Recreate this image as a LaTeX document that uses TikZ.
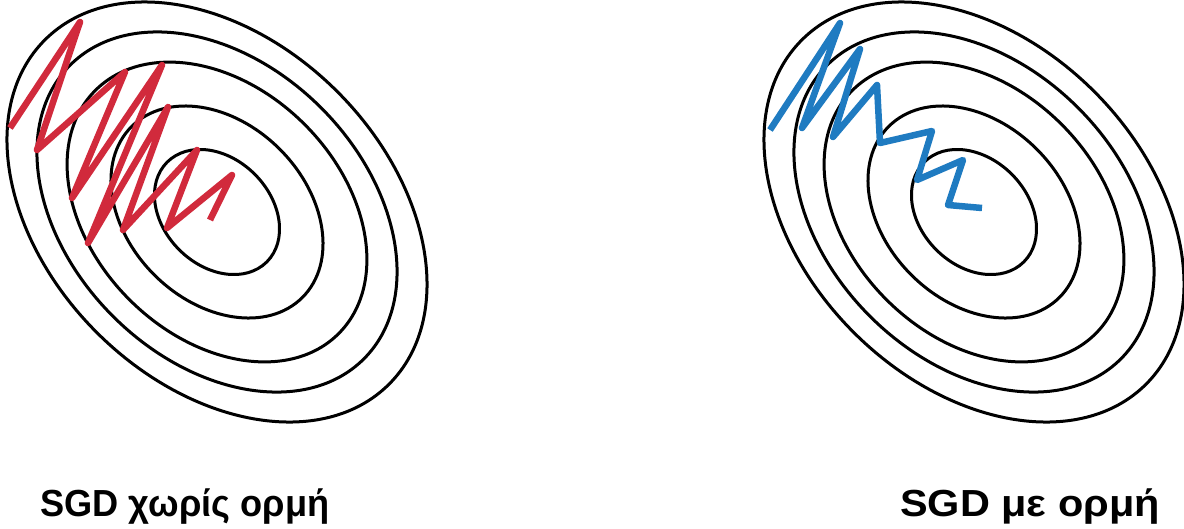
\documentclass[tikz,border=0pt]{standalone}
\usepackage{fontspec}
\setmainfont{Liberation Sans}
\definecolor{sgdred}{RGB}{209,42,60}
\definecolor{sgdblue}{RGB}{31,123,193}
\begin{document}
\begin{tikzpicture}[x=1pt,y=-1pt,
        contour/.style={line width=3pt,black},
        nomom/.style={line width=6.5pt,sgdred,line join=round,line cap=butt},
        withmom/.style={line width=6.5pt,sgdblue,line join=round,line cap=butt},
        caption/.style={anchor=base west,inner sep=0pt,font=\fontsize{37.7}{40}\selectfont\bfseries}]
                \useasboundingbox[fill=white] (0,0) rectangle (1184,528);
                \coordinate (cl) at (217,212);
                \coordinate (cr) at (974,212);
                % contour lines of the loss
                \foreach \a/\b in {70.5/53.4,120.8/88.8,172/123.9,207.7/147.3,243.4/170.2}{
                    \draw[contour,shift={(cl)},rotate=-45] (0,0) ellipse [x radius=\a,y radius=\b];
                    \draw[contour,shift={(cr)},rotate=-45] (0,0) ellipse [x radius=\a,y radius=\b];
                }
                % path without momentum
                \draw[nomom] (10,128)--(80,22)--(37,150)--(125,72)--(72,198)--(162,65)--(88,243)
                    --(168,107)--(123,230)--(197,150)--(167,228)--(232,175)--(210,220);
                % path with momentum
                \draw[withmom] (770,130)--(840,23)--(802,128)--(860,49)--(833,137)--(877,85)
                    --(880,143)--(932,131)--(917,180)--(963,160)--(948,205)--(982,208);
                \node[caption] (capl) at (40,516) {\scalebox{0.96}[1]{SGD χωρίς ορμή}};
                \node[caption] (capr) at (900,516) {\scalebox{1.1}[1]{SGD με ορμή}};
            \end{tikzpicture}
\end{document}
